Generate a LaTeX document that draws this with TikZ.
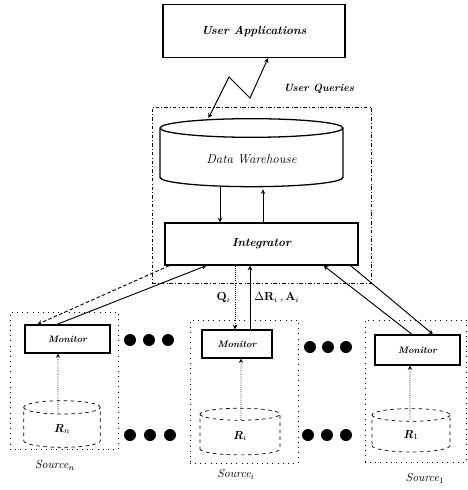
\documentclass[tikz,border=0pt]{standalone}
\usetikzlibrary{shapes.geometric,calc}
\begin{document}
\begin{tikzpicture}[x=0.03cm, y=-0.03cm, thick, >=stealth]
  \tikzstyle{box}=[draw, rectangle, line width=1.1pt, font=\bfseries\itshape]
  \tikzstyle{monitor}=[box, minimum height=0.84cm, font=\footnotesize\bfseries\itshape]
  \tikzstyle{store}=[draw, cylinder, shape border rotate=90]
  \tikzstyle{source}=[draw, rectangle, thin, loosely dotted]
  \tikzstyle{relation}=[store, semithick, dashed, aspect=0.55, minimum width=2.3cm, minimum height=1.4cm, font=\bfseries\itshape]
  \tikzstyle{src_label}=[font=\itshape]
  \tikzstyle{probe}=[->, semithick, densely dotted]
  \useasboundingbox (0,0) rectangle (468,490);

  \node[box, minimum width=5.46cm, minimum height=1.59cm] (ua) at (254,31) {User Applications};
  \node[font=\small\bfseries\itshape] (uq) at (319,89) {User Queries};
  \node[draw, thin, dash dot, minimum width=6.57cm, minimum height=5.28cm] (wh) at (261.5,195) {};
  \node[store, line width=1.1pt, aspect=0.19, minimum width=5.49cm, minimum height=2.04cm, font=\fontsize{11}{13}\selectfont\itshape] (dw) at (251.5,159) {Data Warehouse};
  \node[box, minimum width=5.79cm, minimum height=1.26cm] (int) at (261.5,244) {Integrator};

  \node[source, minimum width=3.24cm, minimum height=4.11cm] (sn) at (64,380.5) {};
  \node[source, minimum width=3.24cm, minimum height=4.29cm] (si) at (244,391.5) {};
  \node[source, minimum width=3.03cm, minimum height=4.26cm] (s1) at (415.5,391) {};

  \node[monitor, minimum width=2.55cm] (mn) at (67.5,339) {Monitor};
  \node[monitor, minimum width=2.1cm] (mi) at (237,344) {Monitor};
  \node[monitor, minimum width=2.55cm, minimum height=0.9cm] (m1) at (417.5,350) {Monitor};

  \node[relation] (rn) at (62,429) {R$_n$};
  \node[relation, minimum width=2.4cm] (ri) at (240,436) {R$_i$};
  \node[relation, minimum width=2.34cm, minimum height=1.3cm] (r1) at (411,435) {R$_1$};

  \node[src_label] (ln) at (55,465) {Source$_n$};
  \node[src_label] (li) at (236,474) {Source$_i$};
  \node[src_label] (l1) at (425,478) {Source$_1$};

  \draw[<->] ($(ua.south)+(14,0)$) -- (250,98) -- (229,77) -- ($(dw.north)+(-43,0)$);
  \draw[->] ($(dw.south)+(-31.5,0)$) -- ($(int.north)+(-41.5,0)$);
  \draw[->] ($(int.north)+(1.5,0)$) -- ($(dw.south)+(11.5,2)$);

  \draw[->] ($(mn.north)+(-10.5,0)$) -- ($(int.south west)+(42,0)$);
  \draw[->, densely dashed] ($(int.south west)+(5,0)$) -- ($(mn.north west)+(13,0)$);
  \draw[->] ($(m1.north)+(-5.5,0)$) -- ($(int.south east)+(-35,0)$);
  \draw[->] ($(int.south east)+(-8,0)$) -- ($(m1.north)+(15.5,0)$);
  \draw[->, densely dotted] ($(int.south)+(-26.5,0)$) -- node[left] {$\mathbf{Q}_i$} ($(mi.north)+(-2,0)$);
  \draw[->] ($(mi.north)+(13,0)$) -- node[right] {$\Delta\mathbf{R}_i\,,\mathbf{A}_i$} ($(int.south)+(-11.5,0)$);

  \draw[probe] ($(rn.north)+(-4,12)$) -- ($(mn.south)+(-9.5,0)$);
  \draw[probe] ($(ri.north)+(1,12)$) -- ($(mi.south)+(4,0)$);
  \draw[probe] ($(r1.north)+(-1,12)$) -- ($(m1.south)+(-7.5,0)$);

  \fill (130,340) circle (6);
  \fill (149,340) circle (6);
  \fill (168,340) circle (6);
  \fill (310,347) circle (6);
  \fill (328,347) circle (6);
  \fill (346,347) circle (6);
  \fill (130,435) circle (6);
  \fill (150,435) circle (6);
  \fill (170,435) circle (6);
  \fill (308,435) circle (6);
  \fill (327,435) circle (6);
  \fill (346,435) circle (6);
\end{tikzpicture}
\end{document}
